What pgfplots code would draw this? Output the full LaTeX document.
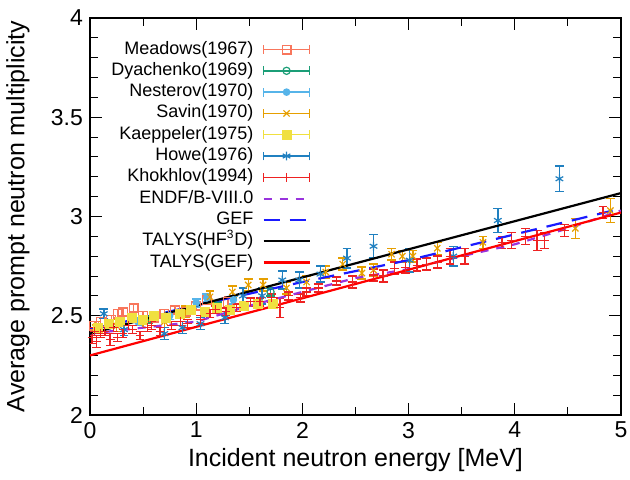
\documentclass[border=0pt]{standalone}
\usepackage{pgfplots}
\pgfplotsset{compat=1.18}
\usepackage{fontspec}
\setmainfont{Liberation Sans}
\definecolor{cMea}{HTML}{F8765C}
\definecolor{cDya}{HTML}{1B9E77}
\definecolor{cNes}{HTML}{56B4E9}
\definecolor{cSav}{HTML}{E69F00}
\definecolor{cKae}{HTML}{F0E040}
\definecolor{cHow}{HTML}{2080C0}
\definecolor{cKho}{HTML}{EE2222}
\definecolor{cEndf}{HTML}{9933DD}
\definecolor{cGef}{HTML}{1A1AFF}
\pgfplotsset{
 errleg/.style={legend image code/.code={
   \draw[##1,mark=none,solid,line width=0.7pt] (0pt,0pt) -- (23pt,0pt);
   \draw[##1,mark=none,solid,line width=0.7pt] (0pt,-2.2pt) -- (0pt,2.2pt) (23pt,-2.2pt) -- (23pt,2.2pt);
   \draw[##1] plot coordinates {(11.5pt,0pt)};
 }},
 lineleg/.style={legend image code/.code={\draw[##1] (0pt,0pt) -- (23pt,0pt);}},
 dat/.style={only marks, mark size=2.2pt, line width=0.6pt, errleg,
   error bars/y dir=both, error bars/y explicit,
   error bars/error bar style={line width=0.7pt, solid},
   error bars/error mark options={rotate=90, mark size=2.2pt, line width=0.7pt, solid}},
}
\pgfplotstableread{
x y e
0.04 2.45 0.02
0.10 2.47 0.02
0.20 2.48 0.02
0.26 2.51 0.02
0.31 2.52 0.02
0.41 2.54 0.02
0.50 2.50 0.02
0.60 2.49 0.02
0.70 2.51 0.02
0.80 2.53 0.02
0.90 2.52 0.02
1.00 2.55 0.02
1.10 2.58 0.02
1.30 2.57 0.025
}\meadows
\pgfplotstableread{
x y e
0.55 2.48 0.02
1.20 2.55 0.02
1.70 2.62 0.02
}\dyachenko
\pgfplotstableread{
x y e
0.45 2.47 0.02
0.75 2.50 0.02
1.00 2.565 0.02
1.10 2.59 0.02
1.35 2.58 0.02
}\nesterov
\pgfplotstableread{
x y e
0.05 2.44 0.03
0.25 2.45 0.03
0.50 2.47 0.03
0.70 2.47 0.03
0.90 2.52 0.03
1.13 2.595 0.03
1.34 2.62 0.03
1.49 2.655 0.03
1.63 2.655 0.03
1.85 2.64 0.03
2.04 2.67 0.03
2.22 2.72 0.03
2.38 2.76 0.03
2.56 2.715 0.03
2.67 2.73 0.03
2.84 2.81 0.03
2.94 2.80 0.03
3.04 2.80 0.03
3.27 2.84 0.03
3.70 2.87 0.03
4.57 2.94 0.05
4.90 3.03 0.06
}\savin
\pgfplotstableread{
x y e
0.08 2.44 0.015
0.18 2.46 0.015
0.28 2.47 0.015
0.40 2.49 0.015
0.50 2.48 0.015
0.60 2.50 0.015
0.72 2.49 0.015
0.85 2.51 0.015
0.95 2.53 0.015
1.08 2.52 0.015
1.20 2.54 0.015
1.32 2.53 0.015
1.45 2.55 0.015
1.58 2.56 0.015
1.72 2.56 0.015
}\kaeppeler
\pgfplotstableread{
x y e
0.13 2.51 0.025
0.32 2.43 0.03
0.70 2.41 0.03
0.87 2.44 0.03
1.04 2.46 0.03
1.27 2.49 0.03
1.44 2.60 0.04
1.62 2.60 0.04
1.81 2.68 0.045
1.97 2.68 0.04
2.17 2.71 0.04
2.42 2.79 0.05
2.67 2.85 0.06
3.01 2.78 0.06
3.42 2.80 0.05
3.84 2.98 0.06
4.42 3.19 0.065
}\howe
\pgfplotstableread{
x y e
0.02 2.39 0.03
0.04 2.42 0.02
0.06 2.37 0.03
0.10 2.41 0.02
0.14 2.42 0.02
0.19 2.38 0.03
0.22 2.44 0.02
0.26 2.39 0.02
0.31 2.41 0.02
0.36 2.45 0.02
0.40 2.43 0.02
0.47 2.40 0.02
0.54 2.44 0.02
0.58 2.45 0.02
0.66 2.42 0.02
0.77 2.45 0.02
0.85 2.47 0.02
0.92 2.46 0.02
1.04 2.48 0.02
1.13 2.51 0.02
1.18 2.53 0.02
1.28 2.52 0.02
1.38 2.54 0.02
1.51 2.57 0.02
1.60 2.57 0.02
1.71 2.59 0.02
1.79 2.54 0.05
1.87 2.60 0.02
1.98 2.59 0.02
2.04 2.62 0.02
2.15 2.64 0.02
2.32 2.675 0.02
2.47 2.67 0.03
2.67 2.705 0.03
2.76 2.70 0.03
2.87 2.74 0.03
2.97 2.745 0.03
3.08 2.755 0.03
3.17 2.76 0.03
3.27 2.77 0.03
3.39 2.80 0.04
3.53 2.80 0.04
3.88 2.87 0.03
3.97 2.88 0.04
4.10 2.90 0.04
4.21 2.88 0.05
4.28 2.88 0.04
4.47 2.93 0.03
4.83 3.02 0.03
}\khokhlov
\begin{document}
\begin{tikzpicture}
\begin{axis}[
  scale only axis, width=265.5pt, height=198.5pt,
  xmin=0, xmax=5, ymin=2, ymax=4,
  xtick={0,1,2,3,4,5}, minor x tick num=1,
  ytick={2,2.5,3,3.5,4}, minor y tick num=4,
  tick align=inside, major tick length=6pt, minor tick length=4pt,
  tick style={black, line width=0.5pt},
  axis line style={line width=0.9pt},
  /pgf/number format/assume math mode=true,
  tick label style={font=\fontsize{11.5}{14}\selectfont},
  xlabel={Incident neutron energy [MeV]},
  ylabel={Average prompt neutron multiplicity},
  every axis x label/.style={at={(axis description cs:0.5,-0.113)}, anchor=center, font=\fontsize{12.5}{15}\selectfont},
  every axis y label/.style={at={(axis description cs:-0.1356,0.5)}, anchor=center, rotate=90, font=\fontsize{12.5}{15}\selectfont},
  legend cell align=right, legend plot pos=right,
  legend style={draw=none, fill=none, inner sep=0pt, column sep=4.5pt, row sep=2.15pt,
    font=\fontsize{9}{10}\selectfont,
    nodes={inner sep=0pt, text height=6.5pt, text depth=2pt},
    at={(axis description cs:0.4163,0.943)}, anchor=north east},
]
\addplot[dat, color=cMea, mark=square] table[x=x,y=y,y error=e]{\meadows};
\addlegendentry{Meadows(1967)}
\addplot[dat, color=cDya, mark=o, mark size=1.8pt] table[x=x,y=y,y error=e]{\dyachenko};
\addlegendentry{Dyachenko(1969)}
\addplot[dat, color=cNes, mark=*, mark size=1.6pt] table[x=x,y=y,y error=e]{\nesterov};
\addlegendentry{Nesterov(1970)}
\addplot[dat, color=cSav, mark=x] table[x=x,y=y,y error=e]{\savin};
\addlegendentry{Savin(1970)}
\addplot[dat, color=cKae, mark=square*] table[x=x,y=y,y error=e]{\kaeppeler};
\addlegendentry{Kaeppeler(1975)}
\addplot[dat, color=cHow, mark=asterisk] table[x=x,y=y,y error=e]{\howe};
\addlegendentry{Howe(1976)}
\addplot[dat, color=cKho, mark=+] table[x=x,y=y,y error=e]{\khokhlov};
\addlegendentry{Khokhlov(1994)}
\addplot[lineleg, color=cEndf, line width=1.1pt, dash pattern=on 4pt off 4pt, mark=none] coordinates {
(0,2.41) (0.5,2.44) (1,2.47) (1.5,2.55) (2,2.62) (2.5,2.69) (3,2.735) (3.5,2.80) (4,2.86) (4.5,2.94) (5,3.03)};
\addlegendentry{ENDF/B-VIII.0}
\addplot[lineleg, color=cGef, line width=1.1pt, dash pattern=on 8pt off 5pt, mark=none] coordinates {
(0,2.43) (1,2.552) (2,2.67) (3,2.78) (4,2.91) (5,3.04)};
\addlegendentry{GEF}
\addplot[lineleg, color=black, line width=1.1pt, mark=none] coordinates {(0,2.41) (5,3.118)};
\addlegendentry{TALYS(HF\textsuperscript{3}D)}
\addplot[lineleg, color=red, line width=1.1pt, mark=none] coordinates {(0,2.30) (5,3.02)};
\addlegendentry{TALYS(GEF)}
\end{axis}
\pgfresetboundingbox
\path (-45pt,-32.5pt) rectangle (270pt,207.5pt);
\end{tikzpicture}
\end{document}
